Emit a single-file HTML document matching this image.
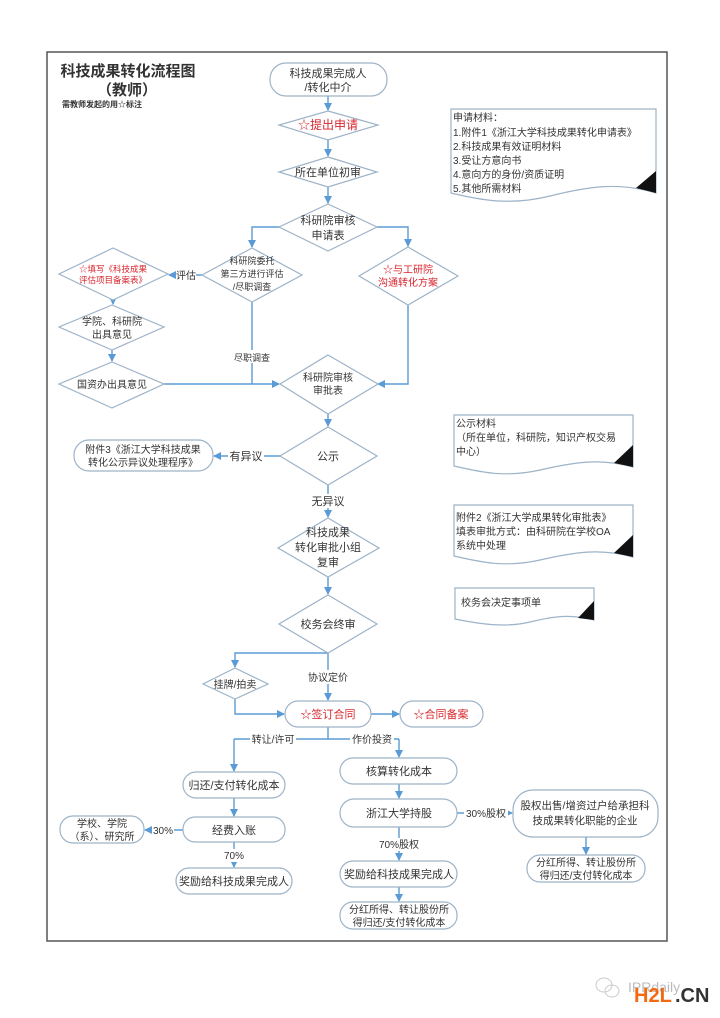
<!DOCTYPE html>
<html><head><meta charset="utf-8"><style>
html,body{margin:0;padding:0;background:#fff;}
svg{display:block;}
text{font-family:"Liberation Sans","Noto Sans CJK SC",sans-serif;fill:#333;}
.n{fill:#fff;stroke:#9db3c8;stroke-width:1.2;}
.l{fill:none;stroke:#5b9bd5;stroke-width:1.4;}
.r{fill:#d9262e;}
</style></head><body>
<svg width="720" height="1018" viewBox="0 0 720 1018" xmlns="http://www.w3.org/2000/svg">
<defs><marker id="a" markerWidth="8" markerHeight="8" refX="7" refY="4" orient="auto" markerUnits="userSpaceOnUse"><path d="M0,0 L8,4 L0,8 z" fill="#5b9bd5"/></marker></defs>
<rect x="47" y="52" width="620" height="889" fill="#fff" stroke="#555" stroke-width="1.5"/>
<!-- title -->
<text x="128" y="76" font-size="15" font-weight="bold" text-anchor="middle">科技成果转化流程图</text>
<text x="127" y="95" font-size="15" font-weight="bold" text-anchor="middle">（教师）</text>
<text x="62" y="107" font-size="8" font-weight="bold">需教师发起的用☆标注</text>

<!-- connectors -->
<g class="l">
<path d="M328,96 V110" marker-end="url(#a)"/>
<path d="M328,140 V156" marker-end="url(#a)"/>
<path d="M328,187 V203" marker-end="url(#a)"/>
<path d="M280,227 H252 V247" marker-end="url(#a)"/>
<path d="M377,227 H408 V246" marker-end="url(#a)"/>
<path d="M202,275 H169" marker-end="url(#a)"/>
<path d="M113,300 V304" marker-end="url(#a)"/>
<path d="M112,350 V361" marker-end="url(#a)"/>
<path d="M164,384 H279" marker-end="url(#a)"/>
<path d="M252,302 V384"/>
<path d="M408,305 V384 H378" marker-end="url(#a)"/>
<path d="M328,414 V426" marker-end="url(#a)"/>
<path d="M280,456 H214" marker-end="url(#a)"/>
<path d="M328,485 V517" marker-end="url(#a)"/>
<path d="M328,577 V594" marker-end="url(#a)"/>
<path d="M328,653 H235 V667" marker-end="url(#a)"/>
<path d="M328,653 V700" marker-end="url(#a)"/>
<path d="M235,699 V714 H284" marker-end="url(#a)"/>
<path d="M371,714 H399" marker-end="url(#a)"/>
<path d="M328,727 V739 M234,739 H399"/>
<path d="M234,739 V771" marker-end="url(#a)"/>
<path d="M399,739 V757" marker-end="url(#a)"/>
<path d="M234,798 V816" marker-end="url(#a)"/>
<path d="M183,830 H145" marker-end="url(#a)"/>
<path d="M234,842 V867" marker-end="url(#a)"/>
<path d="M399,784 V798" marker-end="url(#a)"/>
<path d="M457,813 H512" marker-end="url(#a)"/>
<path d="M399,827 V860" marker-end="url(#a)"/>
<path d="M399,887 V901" marker-end="url(#a)"/>
<path d="M586,837 V854" marker-end="url(#a)"/>
</g>

<!-- label backgrounds + labels -->
<g font-size="10" text-anchor="middle">
<rect x="176" y="268" width="20" height="13" fill="#fff"/><text x="186" y="279">评估</text>
<rect x="232" y="350" width="40" height="13" fill="#fff"/><text x="252" y="361" font-size="9">尽职调查</text>
<rect x="228" y="449" width="36" height="14" fill="#fff"/><text x="246" y="460" font-size="11">有异议</text>
<rect x="310" y="494" width="36" height="14" fill="#fff"/><text x="328" y="505" font-size="11">无异议</text>
<rect x="306" y="670" width="44" height="14" fill="#fff"/><text x="328" y="681">协议定价</text>
<rect x="250" y="733" width="46" height="14" fill="#fff"/><text x="273" y="743">转让/许可</text>
<rect x="350" y="733" width="44" height="14" fill="#fff"/><text x="372" y="743">作价投资</text>
<rect x="152" y="824" width="22" height="13" fill="#fff"/><text x="163" y="834">30%</text>
<rect x="223" y="849" width="22" height="13" fill="#fff"/><text x="234" y="859">70%</text>
<rect x="378" y="838" width="42" height="13" fill="#fff"/><text x="399" y="848">70%股权</text>
<rect x="464" y="807" width="44" height="13" fill="#fff"/><text x="486" y="817">30%股权</text>
</g>

<!-- nodes -->
<g>
<rect class="n" x="270" y="63" width="117" height="33" rx="16"/>
<polygon class="n" points="328,111 378,125 328,140 279,125"/>
<polygon class="n" points="328,157 377,172 328,187 279,172"/>
<polygon class="n" points="328,204 377,227 328,251 279,227"/>
<polygon class="n" points="252,248 302,275 252,302 202,275"/>
<polygon class="n" points="408,247 458,276 408,305 359,276"/>
<polygon class="n" points="113,248 168,274 113,300 59,274"/>
<polygon class="n" points="112,305 164,327 112,350 59,327"/>
<polygon class="n" points="112,362 164,384 112,408 59,384"/>
<polygon class="n" points="328,355 378,384 328,414 280,384"/>
<polygon class="n" points="328,427 377,456 328,485 280,456"/>
<rect class="n" x="74" y="440" width="139" height="31" rx="15"/>
<polygon class="n" points="328,518 379,548 328,577 278,548"/>
<polygon class="n" points="328,595 377,624 328,653 279,624"/>
<polygon class="n" points="235,668 268,684 235,699 203,684"/>
<rect class="n" x="285" y="701" width="86" height="26" rx="13"/>
<rect class="n" x="400" y="701" width="83" height="26" rx="13"/>
<rect class="n" x="183" y="772" width="102" height="26" rx="13"/>
<rect class="n" x="183" y="817" width="102" height="25" rx="12"/>
<rect class="n" x="60" y="816" width="84" height="27" rx="13"/>
<rect class="n" x="176" y="868" width="116" height="26" rx="13"/>
<rect class="n" x="340" y="758" width="117" height="26" rx="13"/>
<rect class="n" x="340" y="799" width="117" height="28" rx="14"/>
<rect class="n" x="513" y="790" width="145" height="47" rx="20"/>
<rect class="n" x="527" y="855" width="118" height="27" rx="13"/>
<rect class="n" x="340" y="861" width="117" height="26" rx="13"/>
<rect class="n" x="340" y="902" width="117" height="27" rx="13"/>
</g>

<!-- node text -->
<g font-size="11" text-anchor="middle">
<text x="328" y="77">科技成果完成人</text><text x="328" y="91">/转化中介</text>
<text x="328" y="129" class="r" font-size="12">☆提出申请</text>
<text x="328" y="176">所在单位初审</text>
<text x="328" y="224">科研院审核</text><text x="328" y="239">申请表</text>
<text x="252" y="264" font-size="9">科研院委托</text><text x="252" y="277" font-size="9">第三方进行评估</text><text x="252" y="290" font-size="9">/尽职调查</text>
<text x="408" y="273" class="r" font-size="10">☆与工研院</text><text x="408" y="286" class="r" font-size="10">沟通转化方案</text>
<text x="113" y="272" class="r" font-size="8.5">☆填写《科技成果</text><text x="113" y="283" class="r" font-size="8.5">评估项目备案表》</text>
<text x="112" y="325" font-size="10">学院、科研院</text><text x="112" y="338" font-size="10">出具意见</text>
<text x="112" y="388" font-size="10">国资办出具意见</text>
<text x="328" y="381" font-size="10">科研院审核</text><text x="328" y="394" font-size="10">审批表</text>
<text x="328" y="460">公示</text>
<text x="143" y="453" font-size="10">附件3《浙江大学科技成果</text><text x="143" y="466" font-size="10">转化公示异议处理程序》</text>
<text x="328" y="536">科技成果</text><text x="328" y="551">转化审批小组</text><text x="328" y="566">复审</text>
<text x="328" y="628">校务会终审</text>
<text x="235" y="688" font-size="10">挂牌/拍卖</text>
<text x="328" y="718" class="r">☆签订合同</text>
<text x="441" y="718" class="r">☆合同备案</text>
<text x="234" y="789">归还/支付转化成本</text>
<text x="234" y="834">经费入账</text>
<text x="102" y="827" font-size="10">学校、学院</text><text x="102" y="840" font-size="10">（系）、研究所</text>
<text x="234" y="885">奖励给科技成果完成人</text>
<text x="399" y="775">核算转化成本</text>
<text x="399" y="817">浙江大学持股</text>
<text x="585" y="809" font-size="10.5">股权出售/增资过户给承担科</text><text x="585" y="824" font-size="10.5">技成果转化职能的企业</text>
<text x="586" y="866" font-size="10">分红所得、转让股份所</text><text x="586" y="879" font-size="10">得归还/支付转化成本</text>
<text x="399" y="878">奖励给科技成果完成人</text>
<text x="399" y="913" font-size="10">分红所得、转让股份所</text><text x="399" y="926" font-size="10">得归还/支付转化成本</text>
</g>

<!-- document notes -->
<g>
<path class="n" d="M451,109 H656 V193 C620,182 590,186 550,196 C510,206 480,200 451,193 Z"/>
<polygon points="656,171 656,193 636,188" fill="#111"/>
<path class="n" d="M454,415 H633 V467 C600,458 575,462 540,470 C505,478 480,472 454,466 Z"/>
<polygon points="633,445 633,467 614,463" fill="#111"/>
<path class="n" d="M454,505 H633 V557 C600,548 575,552 540,560 C505,568 480,562 454,556 Z"/>
<polygon points="633,535 633,557 614,553" fill="#111"/>
<path class="n" d="M455,588 H594 V620 C570,614 555,616 530,622 C505,628 480,624 455,619 Z"/>
<polygon points="594,601 594,620 578,618" fill="#111"/>
</g>
<g font-size="10">
<text x="453" y="121">申请材料：</text>
<text x="453" y="136">1.附件1《浙江大学科技成果转化申请表》</text>
<text x="453" y="150">2.科技成果有效证明材料</text>
<text x="453" y="164">3.受让方意向书</text>
<text x="453" y="178">4.意向方的身份/资质证明</text>
<text x="453" y="192">5.其他所需材料</text>
<text x="456" y="427">公示材料</text>
<text x="456" y="441">（所在单位，科研院，知识产权交易</text>
<text x="456" y="455">中心）</text>
<text x="456" y="521">附件2《浙江大学成果转化审批表》</text>
<text x="456" y="535">填表审批方式：由科研院在学校OA</text>
<text x="456" y="549">系统中处理</text>
<text x="461" y="606">校务会决定事项单</text>
</g>

<!-- watermark -->
<g opacity="0.5" fill="none" stroke="#999">
<ellipse cx="604" cy="985" rx="8" ry="7"/><ellipse cx="612" cy="991" rx="7" ry="6"/>
</g>
<text x="628" y="992" font-size="14" fill="#bbb" style="fill:#bbb">IPRdaily</text>
<text x="634" y="1002" font-size="20" font-weight="bold" style="fill:#f26a10">H2L</text>
<text x="675" y="1002" font-size="20" font-weight="bold" style="fill:#333">.CN</text>
</svg>
</body></html>
